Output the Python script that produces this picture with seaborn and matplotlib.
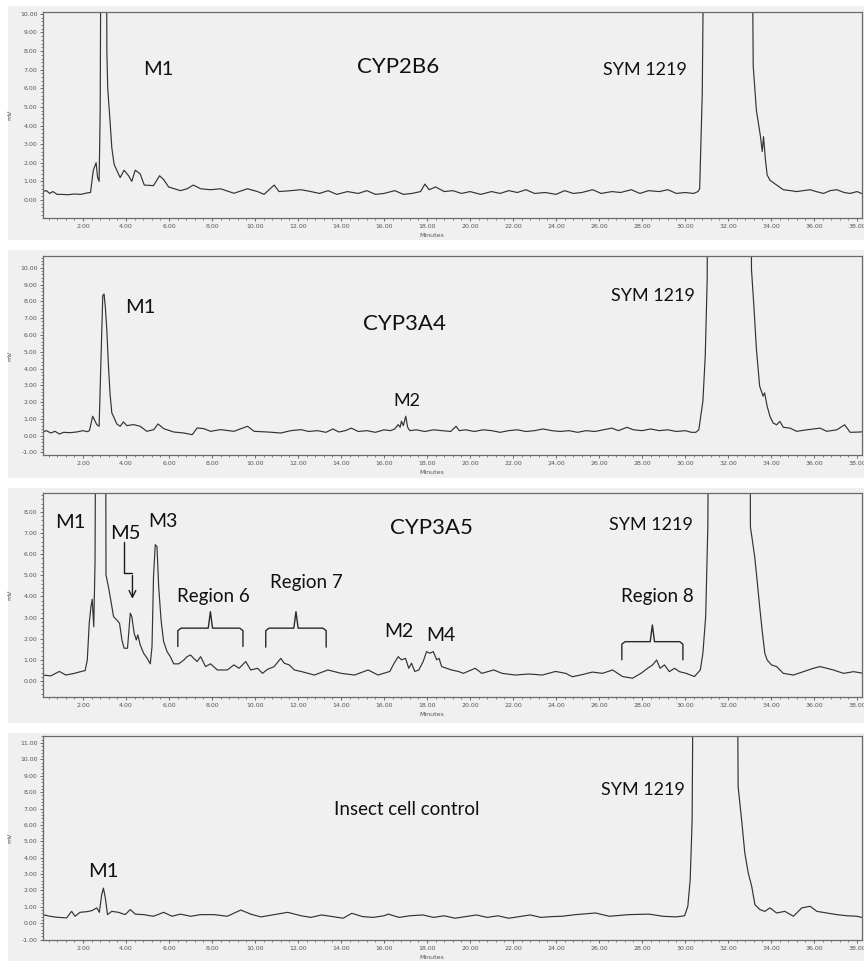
#HPLC chromatograms of SYM 1219 incubations (CYP2B6 / CYP3A4 / CYP3A5 / insect cell control)
import numpy as np
import pandas as pd
import seaborn as sns
from matplotlib import pyplot as plt
from matplotlib.patches import Rectangle
from matplotlib.ticker import MultipleLocator, FormatStrFormatter

sns.set_style("white")
plt.rcParams['font.family'] = ['DejaVu Sans']

# ---- traces (minutes, mV); 25 = off-scale peak ----
p1_t = [0.13,0.3,0.45,0.6,0.8,1.0,1.3,1.6,1.9,2.2,2.35,2.48,2.61,2.68,2.75,2.80,2.87,3.07,3.11,3.15,3.26,3.34,3.45,3.57,3.73,
        3.91,4.12,4.27,4.43,4.66,4.85,5.28,5.56,5.75,5.98,6.53,6.84,7.13,7.47,7.93,8.40,9.02,9.65,10.12,10.42,10.89,11.12,11.67,
        12.14,12.6,13.0,13.4,13.8,14.3,14.8,15.2,15.6,16.0,16.5,16.9,17.3,17.7,17.9,18.1,18.4,18.8,19.2,19.6,20.0,20.5,21.0,
        21.4,21.8,22.2,22.6,23.0,23.5,24.0,24.4,24.8,25.2,25.7,26.1,26.6,27.0,27.5,27.9,28.3,28.8,29.2,29.6,30.0,30.4,30.6,
        30.68,30.80,30.96,33.06,33.17,33.32,33.51,33.59,33.65,33.74,33.82,33.95,34.26,34.57,34.9,35.19,35.5,35.82,36.1,36.44,
        36.75,37.06,37.4,37.68,38.0,38.31,38.4]
p1_v = [0.45,0.5,0.35,0.45,0.3,0.3,0.28,0.32,0.3,0.38,0.4,1.6,2.0,1.2,1.0,4.8,25,25,8.0,6.0,4.2,2.8,1.9,1.6,1.2,
        1.6,1.3,1.0,1.6,1.4,0.8,0.77,1.3,1.1,0.7,0.5,0.6,0.8,0.6,0.55,0.6,0.36,0.6,0.45,0.3,0.8,0.45,0.5,
        0.55,0.45,0.35,0.5,0.3,0.45,0.35,0.5,0.3,0.35,0.5,0.3,0.35,0.45,0.85,0.55,0.7,0.45,0.5,0.35,0.45,0.3,0.45,
        0.35,0.5,0.4,0.55,0.35,0.4,0.3,0.5,0.35,0.4,0.55,0.35,0.45,0.4,0.55,0.35,0.5,0.45,0.55,0.35,0.4,0.35,0.45,
        0.6,5.7,25,25,7.2,4.8,3.4,2.6,3.4,2.15,1.34,1.06,0.8,0.55,0.5,0.45,0.5,0.55,0.45,0.35,
        0.5,0.55,0.4,0.35,0.45,0.3,0.35]

p2_t = [0.13,0.3,0.5,0.7,0.9,1.1,1.4,1.7,2.0,2.2,2.3,2.45,2.55,2.64,2.75,2.84,2.92,2.98,3.04,3.11,3.18,3.26,3.34,3.45,3.57,
        3.73,3.88,4.04,4.35,4.66,4.97,5.29,5.49,5.75,6.22,6.69,7.08,7.31,7.62,7.93,8.40,9.02,9.65,9.96,10.58,11.20,11.67,12.14,
        12.5,12.9,13.3,13.62,13.9,14.2,14.48,14.8,15.2,15.6,16.0,16.3,16.5,16.66,16.75,16.81,16.9,17.01,17.1,17.2,17.5,17.9,
        18.3,18.7,19.1,19.35,19.5,19.8,20.2,20.6,21.0,21.4,21.8,22.2,22.6,23.0,23.4,23.8,24.2,24.6,25.0,25.4,25.8,26.2,26.6,
        26.9,27.3,27.6,28.0,28.4,28.8,29.2,29.6,30.0,
        30.3,30.5,30.64,30.83,30.94,31.03,31.08,33.04,33.09,33.2,33.32,33.47,33.63,33.7,33.82,33.95,34.1,34.26,34.41,34.57,
        34.88,35.19,35.66,36.28,36.59,37.06,37.42,37.68,38.15,38.4]
p2_v = [0.22,0.3,0.16,0.26,0.1,0.2,0.18,0.22,0.3,0.24,0.3,1.16,0.9,0.66,0.56,4.65,8.34,8.44,7.64,6.25,4.25,2.45,1.36,1.06,0.7,
        0.56,0.82,0.6,0.66,0.56,0.26,0.36,0.7,0.42,0.22,0.16,0.06,0.46,0.42,0.26,0.36,0.26,0.56,0.26,0.22,0.16,0.3,0.36,
        0.25,0.3,0.2,0.4,0.22,0.3,0.45,0.25,0.3,0.2,0.35,0.3,0.4,0.66,0.5,0.86,0.6,1.16,0.5,0.3,0.35,0.25,
        0.35,0.3,0.25,0.56,0.3,0.35,0.25,0.35,0.3,0.2,0.3,0.35,0.25,0.3,0.4,0.3,0.25,0.3,0.2,0.3,0.25,0.35,0.45,
        0.3,0.5,0.35,0.3,0.4,0.3,0.35,0.25,0.3,
        0.2,0.2,0.35,2.05,4.75,9.3,25,25,9.9,7.74,5.15,2.95,2.35,2.55,1.75,1.15,0.75,0.65,0.85,0.5,
        0.45,0.26,0.35,0.45,0.26,0.35,0.65,0.2,0.22,0.26]

p3_t = [0.13,0.5,0.9,1.2,1.6,2.0,2.1,2.2,2.29,2.37,2.43,2.5,2.56,2.64,3.03,3.07,3.18,3.29,3.42,3.57,3.7,3.81,3.91,4.07,4.2,
        4.27,4.38,4.48,4.55,4.66,4.82,4.98,5.13,5.21,5.28,5.36,5.44,5.52,5.63,5.75,5.91,6.06,6.22,6.45,6.69,6.84,7.0,7.15,7.31,
        7.47,7.7,7.93,8.25,8.71,9.02,9.26,9.57,9.8,10.12,10.35,10.58,10.89,11.2,11.36,11.59,11.83,12.14,12.76,13.39,14.01,14.63,
        15.26,15.72,16.27,16.47,16.66,16.81,17.0,17.15,17.28,17.43,17.62,17.82,17.98,18.13,18.29,18.45,18.56,18.68,18.91,19.14,
        19.46,19.69,20.24,20.55,21.1,21.49,22.11,22.73,23.36,23.98,24.45,24.76,25.22,25.69,26.16,26.63,27.09,27.56,27.95,28.26,
        28.49,28.68,28.84,29.04,29.27,29.51,29.74,30.05,30.44,30.71,30.83,30.96,31.06,31.17,33.01,33.04,33.13,33.24,33.35,33.47,
        33.6,33.71,33.82,34.02,34.26,34.57,35.04,35.5,35.97,36.28,36.59,36.9,37.37,37.84,38.31,38.4]
p3_v = [0.28,0.24,0.45,0.28,0.36,0.47,0.49,0.99,2.73,3.52,3.87,2.57,5.58,25,25,5.02,4.47,3.84,3.05,2.89,2.73,1.94,1.55,1.55,3.21,
        3.05,2.26,1.94,2.18,1.71,1.31,1.08,0.81,1.63,4.95,6.45,6.37,4.47,2.89,1.86,1.39,1.15,0.81,0.81,0.99,1.15,1.23,1.07,0.92,
        1.15,0.68,0.81,0.52,0.52,0.76,0.6,0.92,0.52,0.6,0.36,0.55,0.68,1.07,0.84,0.76,0.52,0.45,0.28,0.52,0.36,0.28,
        0.52,0.28,0.45,0.84,1.15,1.0,1.07,0.6,0.84,0.45,0.52,0.92,1.39,1.31,1.39,1.0,1.07,0.68,0.6,0.52,
        0.45,0.36,0.6,0.36,0.52,0.36,0.28,0.33,0.28,0.45,0.36,0.2,0.3,0.42,0.36,0.52,0.21,0.13,0.36,0.6,
        0.76,0.99,0.6,0.76,0.44,0.6,0.44,0.36,0.21,0.52,1.31,3.05,7.3,25,25,7.3,6.67,5.88,4.78,3.52,
        2.26,1.31,0.99,0.76,0.68,0.36,0.28,0.44,0.6,0.68,0.6,0.52,0.36,0.44,0.36,0.4]

p4_t = [0.13,0.46,0.77,1.24,1.47,1.63,1.86,2.17,2.41,2.64,2.76,2.87,2.95,3.04,3.14,3.34,3.65,3.96,4.2,4.43,4.82,5.28,5.75,6.14,
        6.53,7.0,7.47,8.09,8.71,9.34,9.8,10.27,10.89,11.52,12.14,12.6,13.1,13.6,14.1,14.5,15.0,15.5,16.0,16.2,16.7,17.2,17.8,
        18.3,18.8,19.3,19.8,20.3,20.8,21.3,21.8,22.3,22.8,23.3,23.8,24.29,24.91,25.84,26.47,27.4,28.33,28.96,29.58,29.98,30.13,
        30.24,30.33,30.42,32.39,32.47,32.63,32.78,32.94,33.1,33.25,33.48,33.71,33.95,34.26,34.64,35.04,35.43,35.82,36.13,
        36.59,37.06,37.53,37.99,38.31,38.4]
p4_v = [0.52,0.42,0.36,0.32,0.72,0.42,0.66,0.7,0.76,0.93,0.66,1.74,2.14,1.53,0.52,0.72,0.66,0.52,0.83,0.55,0.52,0.42,0.66,0.42,
        0.55,0.42,0.52,0.52,0.42,0.8,0.55,0.38,0.52,0.66,0.45,0.35,0.5,0.4,0.3,0.6,0.4,0.35,0.45,0.55,0.35,0.45,0.5,
        0.35,0.45,0.3,0.4,0.5,0.35,0.45,0.3,0.4,0.5,0.35,0.4,0.42,0.52,0.62,0.42,0.52,0.55,0.42,0.38,0.45,1.03,
        2.66,6.31,25,25,8.32,6.31,4.28,3.06,2.25,1.13,0.83,0.72,0.93,0.62,0.72,0.42,0.93,1.03,0.72,
        0.62,0.52,0.45,0.42,0.32,0.35]

panel_t = [p1_t, p2_t, p3_t, p4_t]
panel_v = [p1_v, p2_v, p3_v, p4_v]
panel_ylim = [(-0.97, 10.1), (-1.15, 10.7), (-0.76, 8.9), (-1.03, 11.43)]
panel_yticks = [(0, 10), (-1, 10), (0, 8), (-1, 11)]
x_ticks = [2, 4, 6, 8, 10, 12, 14, 16, 18, 20, 22, 24, 26, 28, 30, 32, 34, 36, 38]

# labels: (text, minutes, mV, fontsize)
labels = [
    [("M1", 5.5, 7.0, 14.5), ("CYP2B6", 16.67, 7.15, 16), ("SYM 1219", 28.12, 7.0, 13)],
    [("M1", 4.66, 7.66, 14.5), ("CYP3A4", 16.95, 6.65, 16), ("SYM 1219", 28.49, 8.3, 13), ("M2", 17.05, 2.04, 13)],
    [("M1", 1.39, 7.49, 14.5), ("M5", 3.96, 7.0, 14.5), ("M3", 5.74, 7.54, 14), ("CYP3A5", 18.21, 7.25, 16),
     ("SYM 1219", 28.4, 7.39, 13), ("Region 6", 8.07, 3.98, 13.5), ("Region 7", 12.37, 4.64, 13.5),
     ("M2", 16.67, 2.32, 14), ("M4", 18.63, 2.13, 14), ("Region 8", 28.73, 3.98, 13.5)],
    [("M1", 2.93, 3.14, 14.5), ("Insect cell control", 17.05, 6.92, 13.5), ("SYM 1219", 28.03, 8.14, 13)],
]
# brackets in CYP3A5: (start, end, foot, bar, tip)
brackets = [(6.41, 9.44, 1.63, 2.5, 3.28), (10.5, 13.31, 1.6, 2.5, 3.28), (27.06, 29.9, 1.0, 1.86, 2.65)]

W, H = 864, 961
def box(l, t, r, b):
    return [l / W, 1 - b / H, (r - l) / W, (b - t) / H]

panel_bg = [(8, 6, 240), (8, 250, 478), (8, 488, 723), (8, 733, 961)]
axes_px = [(43, 12, 862, 218), (43, 256, 862, 455), (43, 493, 862, 697), (43, 736, 862, 940)]
bg = '#f0f0f0'

fig = plt.figure(figsize=(8.64, 9.61), dpi=100)
fig.patch.set_facecolor('white')
for (l, t, b) in panel_bg:
    fig.add_artist(Rectangle((l / W, 1 - b / H), 1, (b - t) / H, transform=fig.transFigure,
                             facecolor=bg, edgecolor='none', zorder=0))

for i in range(4):
    ax = fig.add_axes(box(*axes_px[i]))
    ax.set_facecolor(bg)
    df = pd.DataFrame({"t": panel_t[i], "v": panel_v[i]})
    sns.lineplot(data=df, x="t", y="v", ax=ax, color='#333333', lw=0.85, estimator=None, sort=False)
    lo, hi = panel_yticks[i]
    ax.set_xticks(x_ticks)
    ax.set_yticks(np.arange(lo, hi + 1))
    ax.xaxis.set_minor_locator(MultipleLocator(0.4))
    ax.yaxis.set_minor_locator(MultipleLocator(0.2))
    ax.xaxis.set_major_formatter(FormatStrFormatter('%.2f'))
    ax.yaxis.set_major_formatter(FormatStrFormatter('%.2f'))
    ax.set_xlim(0.14, 38.23)
    ax.set_ylim(*panel_ylim[i])
    ax.tick_params(axis='both', which='major', direction='out', length=2.5, width=0.6, labelsize=4.5,
                   colors='#555555', pad=1.5, bottom=True, left=True)
    ax.tick_params(axis='both', which='minor', direction='out', length=1.5, width=0.5, bottom=True, left=True,
                   colors='#555555')
    for s in ax.spines.values():
        s.set_color('#6a6a6a')
        s.set_linewidth(0.9)
    ax.set_xlabel("Minutes", fontsize=4.5, color='#555555', labelpad=0.5)
    ax.xaxis.set_label_coords(0.475, -0.075)
    ax.set_ylabel("mV", fontsize=4.5, color='#555555', labelpad=2)
    ax.yaxis.set_label_coords(-0.037, 0.5)
    for (txt, x, y, fs) in labels[i]:
        ax.text(x, y, txt, fontsize=fs, family=['Lato', 'DejaVu Sans'], color='#111111',
                ha='center', va='center')
    if i == 2:
        for (a, b, foot, bar, tip) in brackets:
            m = (a + b) / 2
            ax.plot([a, a, a + 0.15, m - 0.1, m, m + 0.1, b - 0.15, b, b],
                    [foot, bar - 0.12, bar, bar, tip, bar, bar, bar - 0.12, foot],
                    color='#2a2a2a', lw=1.0)
        # M5 arrow
        ax.plot([3.93, 3.93, 4.3], [6.6, 5.1, 5.1], color='#1a1a1a', lw=1.0)
        ax.annotate("", xy=(4.3, 3.76), xytext=(4.3, 5.12),
                    arrowprops=dict(arrowstyle='->', color='#1a1a1a', lw=1.0, mutation_scale=12))

fig.savefig("out.png", dpi=100)
